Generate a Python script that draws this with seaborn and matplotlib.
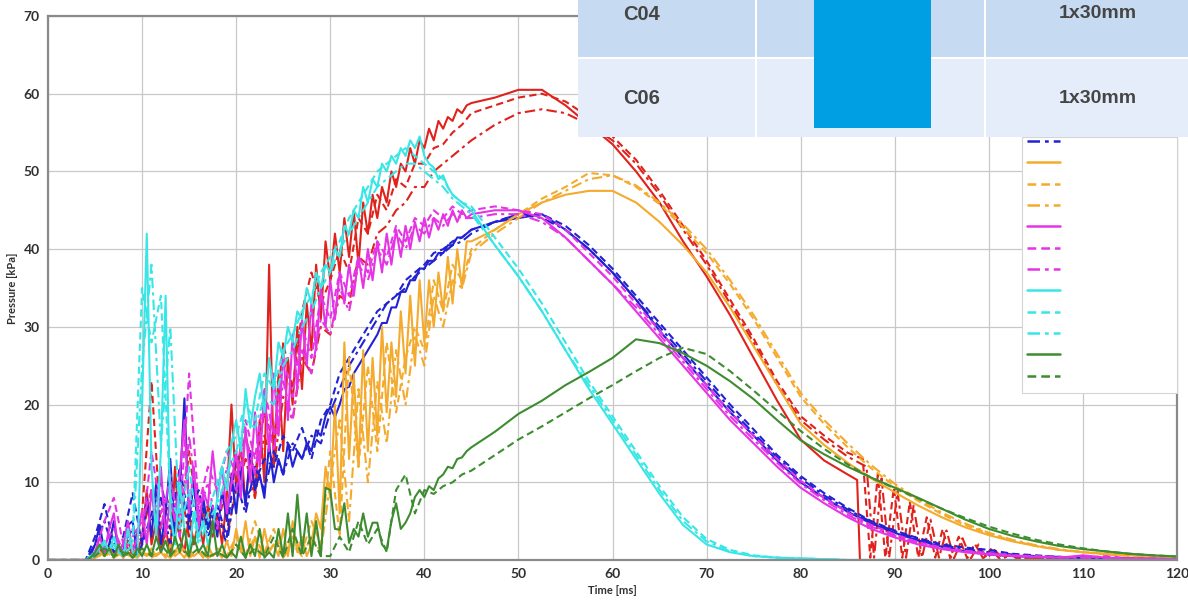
import numpy as np
import matplotlib
matplotlib.use("Agg")
import matplotlib.pyplot as plt
from matplotlib.patches import Rectangle
from matplotlib.lines import Line2D
import seaborn as sns

# sampling grids (ms)
t_fast = np.arange(0, 45, 0.5)     # solid lines, noisy phase
t_var = np.arange(0, 45, 1.0)      # dashed / dash-dot, noisy phase
t_late = np.arange(45, 120.1, 2.5)  # smooth phase

# ---- red ----
red_a_early = [0, 0, 0, 0, 0, 0, 0, 0, 0, 0.3,
               0.8, 1.5, 0.5, 2, 0.5, 1.5, 0.3, 2.5, 0.5, 1,
               3, 9, 2, 5, 1, 4, 1, 12, 3, 1,
               6, 2, 5, 2, 7, 3, 6, 2, 8, 20,
               9, 15, 7, 14, 8, 18, 10, 38, 12, 24,
               14, 26, 20, 30, 22, 33, 27, 38, 31, 41,
               36, 42, 37, 44, 39, 45, 38, 46, 42, 47,
               44, 48, 46, 50, 48, 51, 50, 53, 51, 54,
               53, 55.5, 54, 56.5, 55.5, 57, 56.5, 58, 57.5, 58.5]
red_a_late_t = [45, 47.5, 50, 52.5, 55, 57.5, 60, 62.5, 65, 67.5, 70, 72.5, 75, 77.5, 80,
                82.5, 85, 86, 86.3, 90, 120]
red_a_late = [58.8, 59.5, 60.5, 60.5, 58.5, 56, 53.5, 50, 46, 41, 36.5, 31.5, 26, 20.5, 15.5,
              12.8, 11, 10.3, 0, 0, 0]

red_b_early = [0, 0, 0, 0, 0, 1, 1.5, 0.5, 2, 1,
               6, 23, 4, 8, 3, 14, 5, 7, 4, 10,
               12, 16, 11, 19, 15, 28, 22, 32, 37, 33,
               36, 40, 37, 44, 42, 47, 45, 49, 48, 51,
               51, 53, 53.5, 55, 56]
red_b_late_t = [45, 47.5, 50, 52.5, 55, 57.5, 60, 62.5, 65, 67.5, 70, 72.5, 75, 77.5, 80, 82.5, 85,
                86.6, 87.4, 88.2, 89.0, 89.9, 90.8, 91.6, 92.5, 93.4, 94.3,
                95.1, 95.9, 96.8, 97.7, 98.5, 99.4, 100.2, 101.1, 102, 103,
                110, 120]
red_b_late = [57.5, 58.5, 59.5, 60, 59, 57, 54.5, 51.5, 47.5, 43, 38.5, 33.5, 28.5, 23, 18.5, 16, 13.8,
              13, 0.3, 11, 0.3, 9.3, 0.3, 7.5, 0.3, 5.5, 0.3,
              4, 0.2, 3, 0.2, 2.1, 0.2, 1.4, 0.2, 0.8, 0.2,
              0.1, 0.1]

red_c_early = [0, 0, 0, 0, 0, 0.5, 1, 2, 0.5, 1,
               3, 9, 2, 5, 10, 3, 8, 4, 6, 3,
               9, 13, 8, 16, 12, 21, 18, 26, 24, 30,
               29, 34, 33, 39, 38, 42, 43, 45, 46, 48,
               48, 50, 51, 52, 53]
red_c_late_t = [45, 47.5, 50, 52.5, 55, 57.5, 60, 62.5, 65, 67.5, 70, 72.5, 75, 77.5, 80, 82.5, 85,
                87.0, 87.8, 88.6, 89.4, 90.3, 91.2, 92.0, 92.9, 93.8, 94.7,
                95.5, 96.3, 97.2, 98.1, 98.9, 99.8, 100.6, 101.5, 102.4, 103.4,
                110, 120]
red_c_late = [54, 56, 57.5, 58, 57.5, 56, 54, 51, 47, 42.5, 38, 33, 28, 22.5, 18, 15.5, 13.3,
              12, 0.3, 10.5, 0.3, 8.8, 0.3, 7, 0.3, 5.2, 0.3,
              3.8, 0.2, 2.8, 0.2, 2, 0.2, 1.3, 0.2, 0.7, 0.2,
              0.1, 0.1]

# ---- blue ----
blue_a_early = [0, 0, 0, 0, 0, 0, 0, 0, 0, 0.5,
                2, 4.5, 1, 2, 5, 1, 1, 4.5, 5, 0.5,
                2, 8, 3, 10, 2, 6, 13, 3, 9, 20.8,
                5, 10, 3, 8, 4, 7, 3, 9, 5, 11,
                6, 12, 7, 14, 9, 11, 8, 15, 10, 13,
                11, 15, 12, 14, 13, 15, 14, 16.7, 16, 18.5,
                19.7, 18.4, 20, 22, 22.3, 24, 25, 26, 27, 28,
                29, 30.5, 30.5, 32.5, 32.5, 34.5, 34.5, 36, 36, 37.5,
                37.5, 38.5, 38.5, 39.5, 39.5, 40.5, 40.5, 41.5, 41.5, 42]
blue_a_late = [42.5, 43.5, 44, 44.5, 42.5, 40, 37, 33.5, 29.5, 26,
               22.5, 19, 16, 12.8, 10, 8, 6.2, 4.7, 3.5, 2.5,
               1.7, 1.1, 0.7, 0.5, 0.4, 0.3, 0.3, 0.2, 0.2, 0.1, 0.1]
blue_b_early = [0, 0, 0, 0, 0, 3, 7.2, 2, 3, 8.6,
                2, 6, 10, 4, 12, 5, 9, 4, 7, 3,
                14, 8, 10, 13, 12, 16, 14, 17, 13, 18,
                20, 24, 26, 28, 30, 32, 33, 34, 36, 37,
                38, 39.5, 40, 41, 41.5]
blue_b_late = [42.5, 43.5, 44.5, 44.5, 43, 40.5, 37.5, 34, 30.5, 27,
               23.5, 20, 16.8, 13.5, 10.8, 8.6, 6.7, 5, 3.8, 2.8,
               2, 1.6, 1.3, 0.8, 0.6, 0.4, 0.3, 0.3, 0.2, 0.2, 0.1]
blue_c_early = [0, 0, 0, 0, 0, 2, 5, 1, 2, 4,
                3, 5, 8, 2, 10, 4, 7, 3, 6, 2,
                10, 6, 12, 9, 14, 11, 15, 13, 16, 15,
                19, 22, 25, 27, 29, 31, 33, 34, 35, 36.5,
                37.5, 38.5, 39.5, 40.5, 41]
blue_c_late = [42, 43.5, 44.5, 44, 42.5, 40, 37, 33.5, 30, 26.5,
               23, 19.5, 16.3, 13.2, 10.5, 8.3, 6.5, 4.9, 3.7, 2.7,
               1.9, 1.4, 1.0, 0.7, 0.5, 0.4, 0.3, 0.2, 0.2, 0.1, 0.1]

# ---- orange ----
orange_a_early = [0, 0, 0, 0, 0, 0, 0, 0, 0, 0,
                  0.3, 1, 0.5, 1.5, 0.5, 1, 0.3, 1, 0.5, 0.3,
                  1, 0.5, 1.5, 0.5, 1, 0.3, 2, 0.5, 1, 0.3,
                  1.5, 0.5, 1, 0.3, 2, 0.5, 1, 0.3, 2.5, 0.5,
                  4, 1, 5, 0.5, 3, 0.3, 4, 1, 2, 0.5,
                  4, 0.5, 5, 1, 3, 0.5, 2, 6, 4, 12,
                  8, 20, 6, 28, 13, 24, 12, 27, 14, 26,
                  16, 30, 19, 28, 21, 32, 24, 34, 25, 36,
                  28, 36, 30, 37, 32, 39, 33, 40, 35, 41]
orange_a_late = [41, 42.5, 44.5, 46, 47, 47.5, 47.5, 46, 43.5, 40.5,
                 37, 32.5, 27.5, 22.5, 17.5, 14.8, 12.5, 10.5, 8.7, 7,
                 5.5, 4.2, 3.2, 2.4, 1.8, 1.3, 1, 0.8, 0.6, 0.4, 0.3]
orange_b_early = [0, 0, 0, 0, 0, 0.3, 1, 0.5, 1, 0.3,
                  1, 0.5, 1, 0.3, 2, 0.5, 1, 0.3, 1.5, 0.5,
                  3, 0.5, 5, 1, 4, 0.5, 3, 1, 5, 2,
                  14, 3, 26, 12, 25, 14, 28, 19, 26, 30,
                  27, 36, 32, 38, 36]
orange_b_late = [40, 42.5, 44.5, 46.5, 48, 49.8, 49.5, 48, 45.8, 42.8,
                 39.5, 35.5, 31, 26, 21, 17.5, 14.5, 11.8, 9.5, 7.6,
                 5.9, 4.5, 3.4, 2.5, 1.8, 1.3, 1, 0.7, 0.5, 0.4, 0.3]
orange_c_early = [0, 0, 0, 0, 0, 0.3, 0.8, 0.3, 1, 0.3,
                  0.8, 0.3, 1, 0.3, 1.5, 0.3, 1, 0.3, 1, 0.3,
                  2, 0.5, 3, 0.5, 2, 0.3, 2, 0.5, 3, 1,
                  10, 18, 5, 22, 10, 23, 15, 27, 20, 29,
                  25, 34, 30, 36, 35]
orange_c_late = [39.5, 42, 44, 46, 47.5, 49, 49.5, 48.2, 46, 43.2,
                 40, 36, 31.5, 26.5, 21.5, 18, 15, 12.2, 9.8, 7.8,
                 6.1, 4.7, 3.5, 2.6, 1.9, 1.4, 1, 0.8, 0.6, 0.4, 0.3]

# ---- magenta ----
magenta_a_early = [0, 0, 0, 0, 0, 0, 0, 0, 0, 0.3,
                   1, 3, 1, 4, 6, 1, 2, 5, 1, 3,
                   6.4, 2, 9, 4, 12, 3, 8, 5, 11, 18,
                   6, 12, 4, 9, 7, 14, 8, 12, 6, 10,
                   14, 8, 17, 10, 19, 12, 22, 14, 24, 16,
                   27, 18, 29, 22, 31, 25, 33, 27, 35, 30,
                   36, 31, 37, 33, 38, 34, 39, 35, 40, 36,
                   41, 37, 42, 38, 42.5, 39, 43, 40, 43.5, 41,
                   44, 41.5, 44, 42.5, 44.5, 43, 45, 43.5, 45, 44]
magenta_a_late = [44.5, 45, 45, 44, 41.5, 38.5, 35.5, 32, 28.5, 25,
                  21.5, 18, 15, 12, 9.3, 7.3, 5.5, 4, 2.9, 2,
                  1.4, 1, 0.7, 0.5, 0.4, 0.3, 0.6, 0.3, 0.2, 0.2, 0.1]
magenta_b_early = [0, 0, 0, 0, 0, 1, 5, 8, 2, 4,
                   3, 14, 6, 10, 5, 24, 7, 12, 9, 14,
                   11, 18, 13, 22, 16, 26, 21, 30, 26, 34,
                   31, 37, 34, 39, 37, 41, 39, 43, 41, 44,
                   43, 45, 44, 45.5, 44.5]
magenta_b_late = [45, 45.5, 45, 44.5, 42.5, 39.5, 36.5, 33, 29.5, 26,
                  22.5, 19, 16, 13, 10.2, 8, 6.1, 4.5, 3.3, 2.3,
                  1.6, 1.2, 0.9, 0.6, 0.5, 0.4, 0.3, 0.5, 0.2, 0.2, 0.1]
magenta_c_early = [0, 0, 0, 0, 0, 0.5, 2, 4, 1, 3,
                   5, 9, 4, 11, 3, 16, 6, 10, 4, 12,
                   9, 16, 11, 20, 14, 23, 18, 27, 24, 31,
                   29, 35, 32, 38, 36, 40, 38, 42, 40, 43,
                   42, 44, 43, 44.5, 44]
magenta_c_late = [44, 44.5, 44.5, 43.5, 41.5, 38.5, 35.5, 32.5, 29, 25.5,
                  22, 18.5, 15.5, 12.5, 9.8, 7.7, 5.8, 4.3, 3.1, 2.2,
                  1.5, 1.1, 0.8, 0.6, 0.4, 0.3, 0.3, 0.2, 0.2, 0.1, 0.1]

# ---- cyan ----
cyan_a_early = [0, 0, 0, 0, 0, 0, 0, 0, 0, 0.5,
                1, 1.5, 2.5, 1, 3, 1, 0.5, 4, 1, 0.5,
                20, 42, 12, 3, 14, 34, 6, 2, 10, 4,
                1, 6, 3, 5, 2, 4, 8, 12, 9, 15,
                18, 14, 22, 17, 21, 24, 19, 26, 22, 28,
                26, 30, 28, 32, 31, 35, 33, 37, 35, 38,
                37, 40, 39, 43, 42, 45, 44, 48, 46, 49,
                48, 51, 50, 52, 51, 53, 52, 54, 53, 54.5,
                52, 51, 50.5, 49, 49.5, 48, 47, 46.5, 46, 45.5]
cyan_a_late = [45, 40.5, 36.5, 32, 27, 22, 17.5, 13, 8.5, 4.5,
               2, 1, 0.5, 0.3, 0.2, 0.1, 0, 0, 0, 0,
               0, 0, 0, 0, 0, 0, 0, 0, 0, 0, 0]
cyan_b_early = [0, 0, 0, 0, 0, 1, 2, 1.5, 1, 3,
                35, 28, 34, 8, 5, 12, 3, 6, 10, 14,
                16, 20, 18, 24, 22, 27, 29, 32, 34, 37,
                39, 41, 44, 46, 48, 50, 51, 52, 53, 52,
                51, 50, 49, 47, 46]
cyan_b_late = [45.5, 41.5, 37.5, 33, 28, 23, 18.5, 14, 9.5, 5.5,
               2.7, 1.3, 0.6, 0.3, 0.2, 0.1, 0, 0, 0, 0,
               0, 0, 0, 0, 0, 0, 0, 0, 0, 0, 0]
cyan_c_early = [0, 0, 0, 0, 0, 0.5, 1.5, 2, 0.5, 2,
                25, 38, 15, 30, 4, 9, 2, 5, 7, 11,
                14, 18, 17, 21, 20, 25, 27, 30, 32, 35,
                37, 40, 42, 44, 46, 48, 49, 50, 51, 51,
                50, 49, 48, 46.5, 45.5]
cyan_c_late = [44.5, 40.5, 36.5, 32, 27, 22.5, 18, 13.5, 9, 5,
               2.4, 1.1, 0.5, 0.3, 0.2, 0.1, 0, 0, 0, 0,
               0, 0, 0, 0, 0, 0, 0, 0, 0, 0, 0]

# ---- green ----
green_a_early = [0, 0, 0, 0, 0, 0, 0, 0, 0, 0.3,
                 1, 2, 0.5, 1.5, 0.3, 2, 0.5, 1, 0.3, 1.5,
                 0.5, 2, 0.5, 3, 1, 2.5, 0.5, 3, 1, 4,
                 0.5, 3, 1, 2, 0.5, 5, 0.5, 2, 0.3, 1,
                 0.3, 3, 0.3, 2, 0.5, 4, 0.3, 1, 0.3, 4,
                 0.5, 6, 0.5, 8.4, 1, 6, 0.5, 5, 0.5, 9.3,
                 9, 4, 3.9, 7.3, 2.2, 4, 3, 6, 3, 4.8,
                 4.8, 2, 1.3, 5, 7.3, 4, 4.8, 6, 8.1, 9,
                 8.1, 9.5, 9, 10.5, 11, 12, 11.8, 13, 13.2, 14]
green_a_late = [14.5, 16.5, 18.8, 20.5, 22.5, 24.2, 26, 28.4, 27.9, 26.6,
                25, 23, 20.7, 18, 15.4, 13.6, 12, 10.6, 9.3, 8,
                6.6, 5.2, 4, 3.1, 2.4, 1.8, 1.4, 1.1, 0.8, 0.6, 0.45]
green_b_early = [0, 0, 0, 0, 0, 0.5, 1.5, 0.5, 1, 0.3,
                 1.5, 0.5, 2, 0.5, 2, 0.5, 1.5, 0.3, 1, 0.3,
                 2, 0.3, 1.5, 0.5, 3, 0.3, 4, 0.5, 3, 0.5,
                 0.5, 3, 1, 5, 2, 4, 1, 9, 11, 6,
                 9, 8.5, 9.5, 10, 11]
green_b_late = [11.5, 13.5, 15.5, 17.2, 19, 20.8, 22.5, 24.3, 26, 27.3,
                26.5, 24.3, 21.8, 19.2, 16.6, 14.3, 12.3, 10.6, 9.2, 7.9,
                6.6, 5.4, 4.3, 3.4, 2.6, 2, 1.5, 1.1, 0.8, 0.6, 0.45]

RED, BLUE, ORANGE = "#e0221c", "#2222d2", "#f4aa2c"
MAGENTA, CYAN, GREEN = "#e534e5", "#38e6e6", "#3d8d30"
SOLID, DASH, DASHDOT = "-", (0, (3.5, 2)), (0, (5, 2, 1.5, 2))

series = [
    (np.r_[t_fast, red_a_late_t], red_a_early + red_a_late, RED, SOLID),
    (np.r_[t_var, red_b_late_t], red_b_early + red_b_late, RED, DASH),
    (np.r_[t_var, red_c_late_t], red_c_early + red_c_late, RED, DASHDOT),
    (np.r_[t_fast, t_late], blue_a_early + blue_a_late, BLUE, SOLID),
    (np.r_[t_var, t_late], blue_b_early + blue_b_late, BLUE, DASH),
    (np.r_[t_var, t_late], blue_c_early + blue_c_late, BLUE, DASHDOT),
    (np.r_[t_fast, t_late], orange_a_early + orange_a_late, ORANGE, SOLID),
    (np.r_[t_var, t_late], orange_b_early + orange_b_late, ORANGE, DASH),
    (np.r_[t_var, t_late], orange_c_early + orange_c_late, ORANGE, DASHDOT),
    (np.r_[t_fast, t_late], magenta_a_early + magenta_a_late, MAGENTA, SOLID),
    (np.r_[t_var, t_late], magenta_b_early + magenta_b_late, MAGENTA, DASH),
    (np.r_[t_var, t_late], magenta_c_early + magenta_c_late, MAGENTA, DASHDOT),
    (np.r_[t_fast, t_late], cyan_a_early + cyan_a_late, CYAN, SOLID),
    (np.r_[t_var, t_late], cyan_b_early + cyan_b_late, CYAN, DASH),
    (np.r_[t_var, t_late], cyan_c_early + cyan_c_late, CYAN, DASHDOT),
    (np.r_[t_fast, t_late], green_a_early + green_a_late, GREEN, SOLID),
    (np.r_[t_var, t_late], green_b_early + green_b_late, GREEN, DASH),
]

sns.set_theme(style="whitegrid")
plt.rcParams["font.family"] = ["Lato", "DejaVu Sans"]

W, H = 1188, 602
fig = plt.figure(figsize=(W / 100, H / 100), dpi=100)
ax = fig.add_axes([48 / W, 1 - 560 / H, (1177 - 48) / W, (560 - 16) / H])

for t, p, c, ls in series:
    sns.lineplot(x=t, y=p, color=c, linestyle=ls, lw=1.5, ax=ax,
                 estimator=None, sort=False, legend=False)

ax.set_xlim(0, 120)
ax.set_ylim(0, 70)
ax.set_xticks(range(0, 121, 10))
ax.set_yticks(range(0, 71, 10))
ax.grid(True, color="#c8c8c8", lw=0.9)
for s in ax.spines.values():
    s.set_visible(True)
    s.set_color("#8a8a8a")
    s.set_linewidth(1.6)
ax.tick_params(length=4, width=1, color="#8a8a8a", labelsize=10, labelcolor="#303030", pad=2)
plt.setp(ax.get_xticklabels() + ax.get_yticklabels(), fontweight="bold")
ax.set_xlabel("Time [ms]", fontsize=8, fontweight="bold", color="#303030", labelpad=3)
ax.set_ylabel("Pressure [kPa]", fontsize=8, fontweight="bold", color="#303030", labelpad=4)

# legend panel (labels cut off in the original)
ax.add_patch(Rectangle((1022 / W, 1 - 393 / H), (1177 - 1022) / W, (393 - 137) / H,
                       transform=fig.transFigure, facecolor="white", edgecolor="#d5d5d5",
                       lw=0.8, zorder=4, clip_on=False))
handles = [Line2D([], [], color=c, linestyle=ls, lw=1.8) for _, _, c, ls in series]
leg = ax.legend(handles, [""] * len(handles), loc="upper left",
                bbox_to_anchor=(1027 / W, 1 - 29.5 / H), bbox_transform=fig.transFigure,
                frameon=False, handlelength=2.4, fontsize=10, labelspacing=0.67,
                borderpad=0, borderaxespad=0, handletextpad=0)
leg.set_zorder(5)

# table pasted over the top right corner
def fig_rect(x0, y0, x1, y1, color):
    fig.add_artist(Rectangle((x0 / W, 1 - y1 / H), (x1 - x0) / W, (y1 - y0) / H,
                             transform=fig.transFigure, facecolor=color, edgecolor="none"))

fig_rect(578, 0, 1188, 137, "white")
fig_rect(578, 0, 1188, 57, "#c6dbf1")
fig_rect(578, 59, 1188, 137, "#e4edf9")
fig_rect(755, 0, 757, 137, "white")
fig_rect(984, 0, 986, 137, "white")
fig_rect(814, 0, 931, 128, "#009fe3")
for row_y, name in [(14, "C04"), (98, "C06")]:
    fig.text(642 / W, 1 - row_y / H, name, ha="center", va="center", fontsize=14.5,
             fontweight="bold", color="#454545", family=["Liberation Sans", "DejaVu Sans"])
    fig.text(1098 / W, 1 - row_y / H, "1x30mm", ha="center", va="center", fontsize=14,
             fontweight="bold", color="#454545", family=["Liberation Sans", "DejaVu Sans"])

fig.savefig("out.png", dpi=100)
